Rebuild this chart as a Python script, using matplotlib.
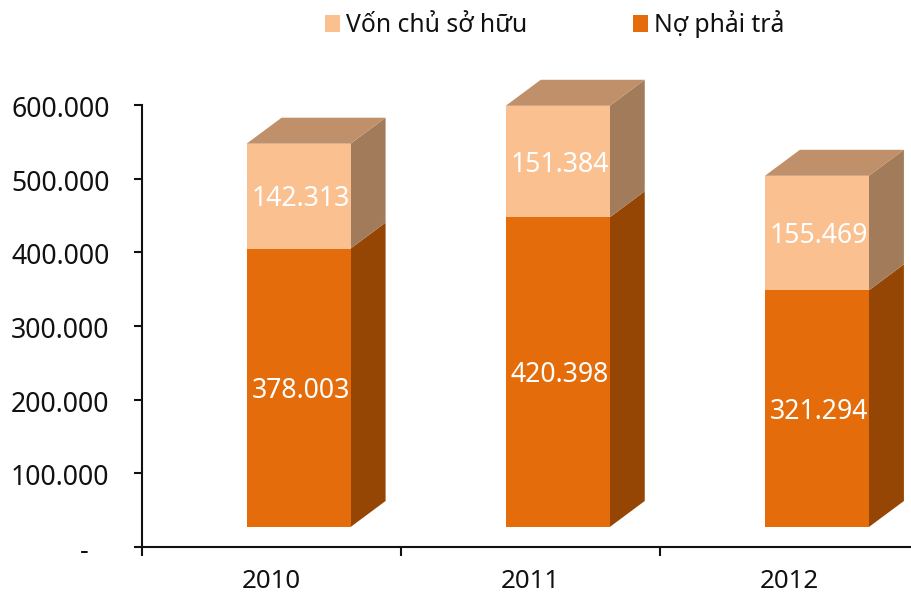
import matplotlib
matplotlib.use("Agg")
import matplotlib.pyplot as plt
from matplotlib.patches import Polygon, Patch
from matplotlib.transforms import ScaledTranslation

years = ["2010", "2011", "2012"]
no_phai_tra = [378003, 420398, 321294]
von_chu_so_huu = [142313, 151384, 155469]
labels_no = ["378.003", "420.398", "321.294"]
labels_von = ["142.313", "151.384", "155.469"]
y_ticks = [0, 100000, 200000, 300000, 400000, 500000, 600000]
y_tick_labels = ["-   ", "100.000", "200.000", "300.000", "400.000", "500.000", "600.000"]

W, H = 911, 596
LEFT, RIGHT, TOP, BOTTOM = 141.5, 919.0, 105.0, 547.0
C_DARK, C_DARK_SIDE = "#E46C0A", "#954605"
C_LIGHT, C_LIGHT_SIDE, C_LIGHT_TOP = "#FBC08F", "#A27B5A", "#BF9069"
FS = 19.2

plt.rcParams["font.family"] = ["Noto Sans", "DejaVu Sans"]
fig = plt.figure(figsize=(W / 100, H / 100), dpi=100, facecolor="white")
ax = fig.add_axes([LEFT / W, 1 - BOTTOM / H, (RIGHT - LEFT) / W, (BOTTOM - TOP) / H])
ax.set_xlim(-0.5, 2.5)
ax.set_ylim(0, 600000)

px_x = 3 / (RIGHT - LEFT)
px_y = 600000 / (BOTTOM - TOP)
width = 104 * px_x
shift_x = 27.5 * px_x
base = 20 * px_y
depth_x = 35 * px_x
depth_y = 26 * px_y


def side(x0, y0, y1, color, z):
    x1 = x0 + depth_x
    ax.add_patch(Polygon([(x0, y0), (x1, y0 + depth_y), (x1, y1 + depth_y), (x0, y1)],
                         closed=True, facecolor=color, edgecolor="none", zorder=z, clip_on=False))


for i in range(len(years)):
    xc = i + shift_x
    xl, xr = xc - width / 2, xc + width / 2
    split = base + no_phai_tra[i]
    top = split + von_chu_so_huu[i]
    side(xr, base, split, C_DARK_SIDE, 2)
    side(xr, split, top, C_LIGHT_SIDE, 2)
    ax.add_patch(Polygon([(xl, top), (xl + depth_x, top + depth_y), (xr + depth_x, top + depth_y), (xr, top)],
                         closed=True, facecolor=C_LIGHT_TOP, edgecolor="none", zorder=2, clip_on=False))
    ax.bar(xc, no_phai_tra[i], width=width, bottom=base, color=C_DARK, zorder=3, clip_on=False)
    ax.bar(xc, von_chu_so_huu[i], width=width, bottom=split, color=C_LIGHT, zorder=3, clip_on=False)
    ax.text(xc + 2 * px_x, base + no_phai_tra[i] / 2 - 3 * px_y, labels_no[i], color="white", fontsize=FS,
            ha="center", va="center", zorder=4)
    ax.text(xc + 2 * px_x, split + von_chu_so_huu[i] / 2 - 3 * px_y, labels_von[i], color="white", fontsize=FS,
            ha="center", va="center", zorder=4)

for s in ("top", "right"):
    ax.spines[s].set_visible(False)
for s in ("left", "bottom"):
    ax.spines[s].set_linewidth(1.5)
    ax.spines[s].set_color("#111111")

ax.set_yticks(y_ticks)
ax.set_yticklabels(y_tick_labels)
ax.tick_params(axis="y", length=6, width=1.5, pad=17, labelsize=FS, color="#111111", labelcolor="#111111")
ax.set_xticks([-0.5, 0.5, 1.5, 2.5])
ax.set_xticklabels([])
ax.set_xticks([0, 1, 2], minor=True)
ax.set_xticklabels(years, minor=True)
ax.tick_params(axis="x", which="major", length=6.5, width=1.5, color="#111111")
ax.tick_params(axis="x", which="minor", length=0, pad=15.5, labelsize=18.6, labelcolor="#111111")

nudge = ScaledTranslation(0, -1.5 / 100, fig.dpi_scale_trans)
for lab in ax.get_yticklabels():
    lab.set_transform(lab.get_transform() + nudge)

handles = [Patch(facecolor=C_LIGHT, edgecolor="none", label="Vốn chủ sở hữu"),
           Patch(facecolor=C_DARK, edgecolor="none", label="Nợ phải trả")]
leg = fig.legend(handles=handles, ncol=2, loc="center left", bbox_to_anchor=(325 / W, 1 - 24 / H),
                 frameon=False, fontsize=17.8, handlelength=0.61, handleheight=0.65,
                 handletextpad=0.25, columnspacing=4.25, borderpad=0, borderaxespad=0,
                 labelcolor="#111111")

fig.savefig("out.png", dpi=100, facecolor="white")
